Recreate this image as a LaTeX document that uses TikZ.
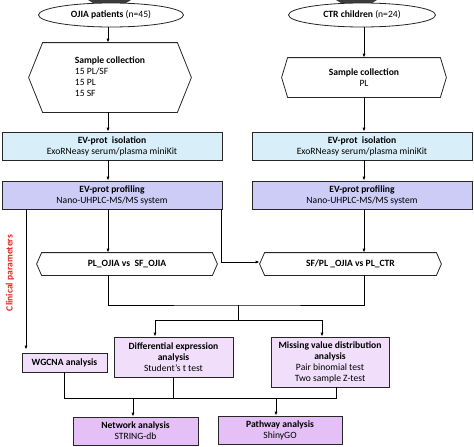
\documentclass[tikz,border=0pt]{standalone}
\usepackage{fontspec}
\setmainfont{Carlito}
\usetikzlibrary{shapes.geometric,arrows.meta,shadows}
\definecolor{isoc}{RGB}{216,239,250}
\definecolor{profc}{RGB}{204,204,246}
\definecolor{anac}{RGB}{241,222,250}
\definecolor{netc}{RGB}{228,192,246}
\definecolor{clinc}{RGB}{228,36,36}
\definecolor{topc}{RGB}{60,60,60}
\begin{document}
\begin{tikzpicture}[x=1pt,y=-1pt,
  font=\fontsize{9.6}{11}\selectfont,
  line width=0.8pt,
  arr/.style={-{Latex[length=4pt,width=3.2pt]}},
  rbox/.style={draw=black!85, align=center, inner sep=0pt,
    drop shadow={shadow xshift=1.1pt, shadow yshift=-1.1pt, fill=black!70, opacity=0.8}},
  hexbox/.style={inner sep=0pt, align=center},
  ell/.style={draw=black!85, ellipse, inner sep=0pt, fill=white, minimum height=24pt}
]
\useasboundingbox (0,0) rectangle (474,447);
% partial dark shapes cut by the top edge
\fill[topc] (88,0) -- (131,0) -- (126,3) -- (93,3) -- cycle;
\fill[topc] (336,0) -- (377,0) -- (372,3) -- (341,3) -- cycle;

% column coordinates
\coordinate (cl) at (108,0);
\coordinate (cr) at (364,0);
\coordinate (ck) at (26,0);

% ellipses
\node[ell, minimum width=145pt] (ellL) at (111,15) {\textbf{OJIA patients} (n=45)};
\node[ell, minimum width=147pt] (ellR) at (362,15) {\textbf{CTR children} (n=24)};

% sample collection hexagons
\node[hexbox, minimum width=162pt, minimum height=69pt] (sampL) at (110,77.5)
  {\begin{tabular}{@{}l@{}}\textbf{Sample collection}\\15 PL/SF\\15 PL\\15 SF\end{tabular}};
\draw[draw=black!85] ([xshift=14pt]sampL.north west) -- ([xshift=-14pt]sampL.north east) -- (sampL.east)
  -- ([xshift=-14pt]sampL.south east) -- ([xshift=14pt]sampL.south west) -- (sampL.west) -- cycle;
\node[hexbox, minimum width=164pt, minimum height=39pt] (sampR) at (364,77.5)
  {\textbf{Sample collection}\\PL};
\draw[draw=black!85] ([xshift=6pt]sampR.north west) -- ([xshift=-6pt]sampR.north east) -- (sampR.east)
  -- ([xshift=-6pt]sampR.south east) -- ([xshift=6pt]sampR.south west) -- (sampR.west) -- cycle;

% isolation
\node[rbox, fill=isoc, minimum width=220pt, minimum height=28pt] (isoL) at (112,146)
  {\textbf{EV-prot\ \ isolation}\\ExoRNeasy serum/plasma miniKit};
\node[rbox, fill=isoc, minimum width=220pt, minimum height=28pt] (isoR) at (362,146)
  {\textbf{EV-prot\ \ isolation}\\ExoRNeasy serum/plasma miniKit};

% profiling
\node[rbox, fill=profc, minimum width=220pt, minimum height=28pt] (profL) at (112,195)
  {\textbf{EV-prot profiling}\\Nano-UHPLC-MS/MS system};
\node[rbox, fill=profc, minimum width=220pt, minimum height=28pt] (profR) at (362,195)
  {\textbf{EV-prot profiling}\\Nano-UHPLC-MS/MS system};

% comparison hexagons
\node[hexbox, minimum width=180pt, minimum height=22pt] (cmpL) at (127,264)
  {\textbf{PL\_OJIA vs\ \ SF\_OJIA}};
\draw[draw=black!85] ([xshift=5pt]cmpL.north west) -- ([xshift=-5pt]cmpL.north east) -- (cmpL.east)
  -- ([xshift=-5pt]cmpL.south east) -- ([xshift=5pt]cmpL.south west) -- (cmpL.west) -- cycle;
\node[hexbox, minimum width=181pt, minimum height=22pt] (cmpR) at (350.5,264)
  {\textbf{SF/PL \_OJIA vs PL\_CTR}};
\draw[draw=black!85] ([xshift=5pt]cmpR.north west) -- ([xshift=-5pt]cmpR.north east) -- (cmpR.east)
  -- ([xshift=-5pt]cmpR.south east) -- ([xshift=5pt]cmpR.south west) -- (cmpR.west) -- cycle;

% analysis boxes
\node[rbox, fill=anac, minimum width=119pt, minimum height=40pt] (diff) at (173.5,357)
  {\textbf{Differential expression}\\\textbf{analysis}\\Student's t test};
\node[rbox, fill=anac, minimum width=118pt, minimum height=50pt] (miss) at (330,362)
  {\textbf{Missing value distribution}\\\textbf{analysis}\\Pair binomial test\\Two sample Z-test};
\node[rbox, fill=anac, minimum width=85pt, minimum height=19pt] (wgcna) at (64.5,362.5)
  {\textbf{WGCNA analysis}};

\node[rbox, fill=netc, minimum width=125pt, minimum height=28pt] (net) at (135.5,431)
  {\textbf{Network analysis}\\STRING-db};
\node[rbox, fill=netc, minimum width=124pt, minimum height=28pt] (pathw) at (280,430)
  {\textbf{Pathway analysis}\\ShinyGO};

% clinical parameters label
\node[rotate=90, text=clinc, font=\fontsize{9.6}{10}\selectfont\bfseries] (clin) at (10,273) {Clinical parameters};

% connectors, top part
\draw[arr] (cl |- ellL.south) -- (cl |- sampL.north);
\draw[arr] (cl |- sampL.south) -- (cl |- isoL.north);
\draw[arr] (cl |- isoL.south) -- (cl |- profL.north);
\draw[arr] (cl |- profL.south) -- (cl |- cmpL.north);
\draw[arr] (cr |- ellR.south) -- (cr |- sampR.north);
\draw[arr] (cr |- sampR.south) -- (cr |- isoR.north);
\draw[arr] (cr |- isoR.south) -- (cr |- profR.north);
\draw[arr] (cr |- profR.south) -- (cr |- cmpR.north);
\draw[arr] ([xshift=-1pt]profL.south east) |- ([yshift=2pt]cmpR.west);
\draw[arr, shorten >=3pt] (ck |- profL.south) -- (ck |- wgcna.north);

% merge of the comparisons
\coordinate (j1) at (238,305);
\coordinate (j2) at (238,320);
\draw (cl |- cmpL.south) |- (j1) -| (cr |- cmpR.south);
\draw (j1) -- (j2);
\draw[arr] (j2) -| ([xshift=-18.5pt]diff.north);
\draw[arr] (j2) -| ([xshift=-8pt]miss.north);

% merge of the analyses
\coordinate (bl) at (64.5,398);
\coordinate (br) at (336,398);
\draw (wgcna.south) -- (bl) -- (br) -- ([xshift=6pt]miss.south);
\draw (diff.south) -- (diff.south |- bl);
\draw[arr] ([xshift=-2.5pt]net.north |- bl) -- ([xshift=-2.5pt]net.north);
\draw[arr] ([xshift=-4pt]pathw.north |- bl) -- ([xshift=-4pt]pathw.north);
\end{tikzpicture}
\end{document}
